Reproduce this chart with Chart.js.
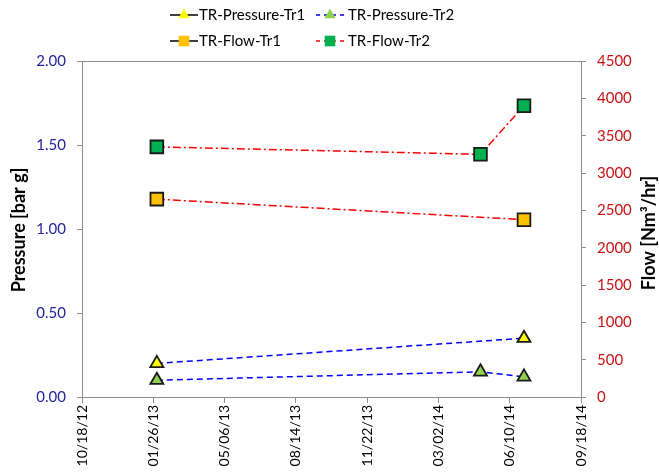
<!DOCTYPE html>
<html><head><meta charset="utf-8">
<script src="https://cdn.jsdelivr.net/npm/chart.js@4/dist/chart.umd.min.js"></script>
<style>html,body{margin:0;padding:0;background:#fff}</style>
</head><body>
<canvas id="c" width="659" height="473"></canvas>
<script>
// ---- data ----
const baseDate = '2012-10-18';
const endDate = '2014-09-18';
const dates = ['2013-01-31', '2014-04-30', '2014-06-30'];
const pressureTr1 = [0.20, null, 0.35];
const pressureTr2 = [0.10, 0.15, 0.12];
const flowTr1 = [2650, null, 2375];
const flowTr2 = [3350, 3250, 3900];
const seriesNames = ['TR-Pressure-Tr1', 'TR-Pressure-Tr2', 'TR-Flow-Tr1', 'TR-Flow-Tr2'];
const pressureTicks = [0, 0.5, 1.0, 1.5, 2.0];
const flowTicks = [0, 500, 1000, 1500, 2000, 2500, 3000, 3500, 4000, 4500];
const xTickStepDays = 100;
const axisTitles = ['Pressure [bar g]', 'Flow [Nm³/hr]'];

const DAY = 86400000;
const baseMs = Date.parse(baseDate + 'T00:00:00Z');
const dayOf = s => Math.round((Date.parse(s + 'T00:00:00Z') - baseMs) / DAY);
const fmt = v => { const d = new Date(baseMs + v * DAY); const p = n => String(n).padStart(2, '0');
  return p(d.getUTCMonth() + 1) + '/' + p(d.getUTCDate()) + '/' + p(d.getUTCFullYear() % 100); };
const pts = arr => dates.map((d, i) => ({x: dayOf(d), y: arr[i]})).filter(p => p.y !== null);

const FONT = 'Lato, "Liberation Sans", sans-serif';
const BLUE_TXT = '#2424A0', RED_TXT = '#C81414', GRID = '#8c8c8c';

const styles = [
  {line: '#0000FF', dash: [6, 4], legendLine: '#000', legendDash: [], ps: 'triangle', fill: '#FFFF00', r: 7.5, axis: 'y'},
  {line: '#0000FF', dash: [6, 4], legendLine: '#0000FF', legendDash: [4, 4], ps: 'triangle', fill: '#92D050', r: 7.5, axis: 'y'},
  {line: '#FF0000', dash: [8, 3, 2, 3], legendLine: '#000', legendDash: [], ps: 'rect', fill: '#FFC000', r: 9, axis: 'y1'},
  {line: '#FF0000', dash: [8, 3, 2, 3], legendLine: '#FF0000', legendDash: [4, 4], ps: 'rect', fill: '#00B050', r: 9, axis: 'y1'}
];
const series = [pressureTr1, pressureTr2, flowTr1, flowTr2];

const datasets = series.map((arr, i) => ({
  label: seriesNames[i], data: pts(arr), yAxisID: styles[i].axis,
  borderColor: styles[i].line, borderDash: styles[i].dash, borderWidth: 1.5,
  pointStyle: styles[i].ps, pointRadius: styles[i].r, pointHoverRadius: styles[i].r,
  pointBackgroundColor: styles[i].fill, pointBorderColor: '#1a1a1a', pointBorderWidth: 1.8,
  fill: false, tension: 0, spanGaps: true
}));

const framePlugin = {
  id: 'frame',
  afterDraw(chart) {
    const {ctx, chartArea: a} = chart;
    ctx.save();
    ctx.strokeStyle = GRID; ctx.lineWidth = 1;
    ctx.beginPath(); ctx.moveTo(a.left, a.top + 0.5); ctx.lineTo(a.right, a.top + 0.5); ctx.stroke();
    // axis titles
    ctx.fillStyle = '#000'; ctx.font = 'bold 18px ' + FONT;
    ctx.textAlign = 'center'; ctx.textBaseline = 'middle';
    const cy = (a.top + a.bottom) / 2;
    ctx.save(); ctx.translate(19, cy + 1); ctx.rotate(-Math.PI / 2); ctx.fillText(axisTitles[0], 0, 0); ctx.restore();
    ctx.save(); ctx.translate(649, cy + 4); ctx.rotate(-Math.PI / 2); ctx.fillText(axisTitles[1], 0, 0); ctx.restore();
    // legend
    const pos = [[170, 15], [316, 15], [170, 41], [316, 41]];
    ctx.font = '15px ' + FONT; ctx.textAlign = 'left';
    pos.forEach(([x, y], i) => {
      const s = styles[i];
      ctx.save();
      ctx.strokeStyle = s.legendLine; ctx.lineWidth = 1.5; ctx.setLineDash(s.legendDash);
      ctx.beginPath(); ctx.moveTo(x, y); ctx.lineTo(x + 28, y); ctx.stroke();
      ctx.restore();
      ctx.save();
      ctx.fillStyle = s.fill; ctx.strokeStyle = '#1a1a1a'; ctx.lineWidth = 1.3;
      Chart.helpers.drawPoint(ctx, {pointStyle: s.ps, radius: s.ps === 'rect' ? 7.5 : 6.5, rotation: 0}, x + 14, y);
      ctx.restore();
      ctx.fillStyle = '#000';
      ctx.fillText(seriesNames[i], x + (i % 2 ? 32 : 29), y);
    });
    ctx.restore();
  }
};

new Chart(document.getElementById('c'), {
  type: 'line',
  data: {datasets},
  options: {
    responsive: false, animation: false, devicePixelRatio: 1,
    layout: {padding: {top: 61, left: 0, right: 0, bottom: 0}},
    plugins: {legend: {display: false}, tooltip: {enabled: false}},
    scales: {
      x: {
        type: 'linear', min: 0, max: dayOf(endDate),
        afterFit: s => { s.height = 76; },
        afterBuildTicks: s => { s.ticks = []; for (let v = 0; v <= dayOf(endDate); v += xTickStepDays) s.ticks.push({value: v}); },
        ticks: {callback: v => fmt(v), minRotation: 90, maxRotation: 90, color: '#000', font: {size: 14, family: FONT}, padding: 2, autoSkip: false},
        grid: {drawOnChartArea: false, drawTicks: true, tickLength: 6, color: GRID},
        border: {display: true, color: GRID}
      },
      y: {
        position: 'left', min: 0, max: 2,
        afterFit: s => { s.width = 82; },
        afterBuildTicks: s => { s.ticks = pressureTicks.map(v => ({value: v})); },
        ticks: {callback: v => v.toFixed(2), color: BLUE_TXT, font: {size: 15, family: FONT}, padding: 11},
        grid: {drawOnChartArea: false, drawTicks: true, tickLength: 5, color: GRID},
        border: {display: true, color: GRID}
      },
      y1: {
        position: 'right', min: 0, max: 4500,
        afterFit: s => { s.width = 78; },
        afterBuildTicks: s => { s.ticks = flowTicks.map(v => ({value: v})); },
        ticks: {callback: v => String(v), color: RED_TXT, font: {size: 15, family: FONT}, padding: 11},
        grid: {drawOnChartArea: false, drawTicks: true, tickLength: 5, color: GRID},
        border: {display: true, color: GRID}
      }
    }
  },
  plugins: [framePlugin]
});
</script>
</body></html>
